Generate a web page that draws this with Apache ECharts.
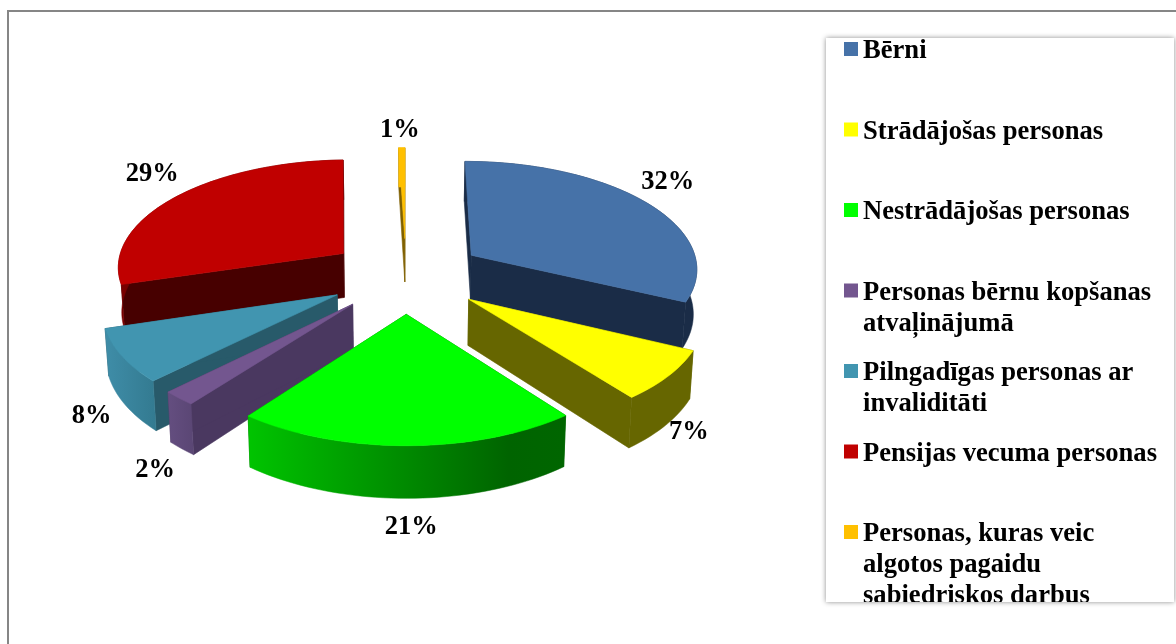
<!DOCTYPE html>
<html><head><meta charset="utf-8">
<style>html,body{margin:0;padding:0;background:#fff}#c{width:1176px;height:644px}</style>
<script src="https://cdn.jsdelivr.net/npm/echarts@6/dist/echarts.min.js"></script>
</head><body><div id="c"></div>
<script>
const categories = ['Bērni','Strādājošas personas','Nestrādājošas personas','Personas bērnu kopšanas\natvaļinājumā','Pilngadīgas personas ar\ninvaliditāti','Pensijas vecuma personas','Personas, kuras veic\nalgotos pagaidu\nsabiedriskos darbus'];
const shares = [32.1,7.4,20.9,2.1,7.8,29.2,0.5];
const topColors = ['#4672a8','#ffff00','#00ff00','#73568f','#4195b0','#c00000','#ffc000'];
const wallColors = ['#1a2c47','#666600','#006600','#4a3860','#285a6a','#470000','#7f6000'];
const rimColors = [['#1a2c47','#1a2c47'],['#666600','#666600'],['#00c400','#006000'],['#644e80','#5a4674'],['#3f8da8','#337a90'],['#7a0000','#470000'],['#ffc000','#ffc000']];
const drawOrder = [6,5,0,4,3,1,2];
const labelNudge = [[21,-21],[20,56],[4,81],[-24,72],[-30,60],[-24,-23],[-2,-18]];

const view = {cx:406, cy:275, rx:228, ry:108, persp:0.108, expU:0.345, expV:0.35, depth:45, shrink:0.012};
const total = shares.reduce((a,b)=>a+b,0);
const starts = []; shares.reduce((acc,v,i)=>{starts[i]=acc; return acc+v;},0);
const project = (u,v,z)=>{
  const s = 1/(1-view.persp*v);
  return [view.cx+view.rx*u*s*(1-view.shrink*z), view.cy+view.ry*v*s+view.depth*z*s];
};
function sliceShape(i){
  const a0 = starts[i]/total*2*Math.PI, a1 = (starts[i]+shares[i])/total*2*Math.PI, mid=(a0+a1)/2;
  const ou = Math.sin(mid)*view.expU, ov = -Math.cos(mid)*view.expV;
  const rim = [];
  const steps = Math.max(2,Math.round((a1-a0)/0.03));
  for(let k=0;k<=steps;k++){const a=a0+(a1-a0)*k/steps; rim.push([ou+Math.sin(a),ov-Math.cos(a)]);}
  return {ou,ov,rim,mid};
}
const style=(c)=>({fill:c,stroke:c,lineWidth:0.6});
function renderSlice(params){
  const i = drawOrder[params.dataIndex];
  const g = sliceShape(i);
  const apexTop=project(g.ou,g.ov,0), apexBot=project(g.ou,g.ov,1);
  const rimTop=g.rim.map(p=>project(p[0],p[1],0)), rimBot=g.rim.map(p=>project(p[0],p[1],1));
  const last=rimTop.length-1;
  const poly=(pts,st)=>({type:'polygon',shape:{points:pts},style:st,silent:true});
  const grad=new echarts.graphic.LinearGradient(0,0,1,0,i===2?[{offset:0,color:'#00c400'},{offset:0.82,color:'#006400'},{offset:1,color:'#006600'}]:[{offset:0,color:rimColors[i][0]},{offset:1,color:rimColors[i][1]}]);
  const rimMid=project(g.ou+Math.sin(g.mid),g.ov-Math.cos(g.mid),0);
  return {type:'group',children:[
    poly([apexTop,rimTop[0],rimBot[0],apexBot],style(wallColors[i])),
    poly([apexTop,rimTop[last],rimBot[last],apexBot],style(wallColors[i])),
    poly(rimTop.concat(rimBot.slice().reverse()),{fill:grad,stroke:grad,lineWidth:0.5}),
    poly([apexTop].concat(rimTop),style(topColors[i])),
    {type:'text',silent:true,style:{text:Math.round(shares[i])+'%',x:rimMid[0]+labelNudge[i][0],y:rimMid[1]+labelNudge[i][1],align:'center',verticalAlign:'middle',font:'bold 26.5px "Liberation Serif"',fill:'#000'}}
  ]};
}
const legendBox={x:826,y:38,width:348,height:564};
const legendLayout={markerX:844,markerTop:42,step:80.5,size:14,textX:863,textOffset:-6,lineHeight:31};
function renderLegend(params){
  const i=params.dataIndex, top=legendLayout.markerTop+legendLayout.step*i;
  return {type:'group',children:[
    {type:'rect',silent:true,shape:{x:legendLayout.markerX,y:top,width:legendLayout.size,height:legendLayout.size},style:{fill:topColors[i]}},
    {type:'text',silent:true,style:{text:categories[i],x:legendLayout.textX,y:top+legendLayout.textOffset,align:'left',verticalAlign:'top',lineHeight:legendLayout.lineHeight,font:'bold 26.6px "Liberation Serif"',fill:'#000'},
     clipPath:{type:'rect',shape:legendBox}}
  ]};
}
const chart=echarts.init(document.getElementById('c'),null,{renderer:'canvas'});
chart.setOption({
  animation:false,
  backgroundColor:'#fff',
  graphic:[
    {type:'rect',z:0,silent:true,shape:{x:8,y:11,width:1300,height:800},style:{fill:'#fff',stroke:'#868686',lineWidth:2}},
    {type:'rect',z:1,silent:true,shape:legendBox,style:{fill:'#fff',shadowBlur:5,shadowColor:'rgba(0,0,0,0.45)'}}
  ],
  series:[
    {type:'custom',coordinateSystem:'none',renderItem:renderSlice,data:drawOrder.map(i=>shares[i]),silent:true,clip:false},
    {type:'custom',coordinateSystem:'none',renderItem:renderLegend,data:categories.map((c,i)=>shares[i]),silent:true,clip:false}
  ]
});
</script></body></html>
